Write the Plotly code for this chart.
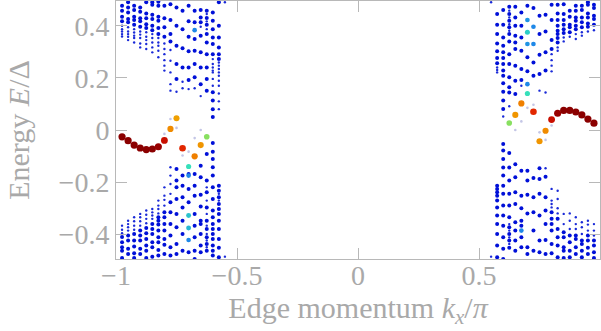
import plotly.graph_objects as go

# Momentum columns on each side of the zone (k_x / pi)
k_left = [-0.975, -0.95, -0.925, -0.9, -0.875, -0.85, -0.825, -0.8, -0.775,
          -0.75, -0.725, -0.7, -0.675, -0.65, -0.625, -0.6, -0.575, -0.55]
k_right = [0.55, 0.575, 0.6, 0.625, 0.65, 0.675, 0.7, 0.725, 0.75,
           0.775, 0.8, 0.825, 0.85, 0.875, 0.9, 0.925, 0.95, 0.975]

# Bulk levels (E / Delta), one list per momentum column
left_big = [
    [.477, .458, .435, .417, -.411, -.431, -.450, -.463, -.491],
    [.490, .470, .451, .426, .413, -.405, -.424, -.456, -.476],
    [.477, .460, .435, .422, .404, -.399, -.424, -.447, -.473, -.491],
    [.470, .454, .429, .417, .396, -.386, -.405, -.424, -.456, -.476],
    [.490, .447, .429, .406, .391, -.376, -.396, -.418, -.443, -.463, -.491],
    [.490, .481, .442, .426, .400, .383, -.361, -.380, -.399, -.431, -.450, -.486],
    [.492, .477, .435, .419, .391, .368, -.335, -.348, -.363, -.386, -.412, -.431, -.460, -.482],
    [.477, .429, .394, .358, -.316, -.335, -.361, -.386, -.418, -.440, -.476],
    [.483, .422, .368, .340, -.277, -.316, -.361, -.405, -.450, -.482],
    [.470, .400, .323, .253, .196, -.150, -.194, -.220, -.265, -.322, -.373, -.437, -.476],
    [.458, .387, .314, .240, -.175, -.214, -.258, -.297, -.348, -.399, -.463],
    [.477, .417, .358, .302, .240, .192, -.169, -.226, -.277, -.469],
    [.458, .413, .349, .304, .253, .202, -.169, -.214, -.252, -.322, -.367, -.412, -.463, -.495],
    [.460, .432, .413, .362, .298, .240, .176, -.137, -.181, -.248, -.294, -.348, -.361, -.399, -.443, -.469],
    [.458, .430, .404, .368, .336, .291, .240, .196, .151, -.092, -.194, -.239, -.297, -.348, -.380,
     -.412, -.437, -.463],
    [.451, .419, .387, .355, .330, .291, .145, .113, .080, .050, -.050, -.083, -.111, -.143, -.175,
     -.220, -.265, -.309, -.335, -.361, -.380, -.399, -.418, -.443, -.463, -.482],
    [.490, .400, .355, .317, .291, .272, -.214, -.233, -.258, -.284, -.303, -.322, -.348, -.380,
     -.418, -.452, -.488],
    [],
]
left_small = [
    [.400, .387, .378, .368, .359, -.367, -.383, -.396],
    [.394, .378, .368, .358, .345, -.348, -.361, -.373, -.386],
    [.387, .374, .362, .353, .336, -.335, -.350, -.367, -.383],
    [.378, .366, .353, .332, .317, -.322, -.335, -.350, -.367],
    [.375, .358, .345, .330, .311, -.309, -.325, -.341, -.358],
    [.368, .353, .336, .317, .298, -.303, -.316, -.328, -.341],
    [.353, .336, .323, .304, .279, -.271, -.290, -.303, -.320],
    [.332, .311, .291, .268, .247, .228, -.220, -.252, -.268, -.290],
    [.307, .266, .221, .176, .151, -.143, -.175, -.207, -.245],
    [.147],
    [.185, .160],
    [.157],
    [.160],
    [.396, .130],
    [.445, .417, .387, -.220, -.271, -.322, -.367, -.399, -.424, -.450],
    [.272, .253, .240, .228, .221, .196, .170],
    [.259, .247, .234, .221, .208, .189, .170, .140, .110, .080, -.245, -.271, -.303],
    [.490, -.486],
]
right_big = [
    [],
    [.445, .404, .368, .332, .302, .276, .256, -.214, -.226, -.239, -.252, -.271, -.297, -.328,
     -.361, -.399, -.443, -.488],
    [.460, .404, .355, .323, .298, .276, .253, .228, .208, .179, .147, .113, .081, -.054, -.079,
     -.111, -.144, -.175, -.214, -.245, -.290, -.328, -.367, -.412, -.456, -.495],
    [.473, .445, .419, .394, .368, .340, .291, .253, .202, .164, .144, -.088, -.144, -.194, -.245,
     -.290, -.335, -.373, -.399, -.424, -.452],
    [.473, .432, .400, .362, .336, .311, .247, .189, .138, -.131, -.181, -.239, -.284, -.354,
     -.386, -.424, -.463],
    [.451, .400, .355, .304, .234, .192, -.156, -.252, -.300, -.348, -.367, -.412, -.450],
    [.477, .279, .225, -.156, -.194, -.248, -.320, -.450, -.476],
    [.468, .259, .208, -.184, -.258, -.316, -.386, -.463],
    [.438, .368, .289, .215, -.147, -.188, -.245, -.328, -.424, -.469],
    [.442, .378, .298, .228, -.179, -.258, -.309, -.361, -.422, -.476],
    [.481, .422, .345, .311, -.316, -.341, -.361, -.386, -.437, -.473],
    [.481, .447, .422, .400, .381, .368, .353, .336, -.341, -.380, -.412, -.443, -.488],
    [.483, .445, .422, .404, .387, .372, -.392, -.412, -.450, -.463, -.491],
    [.458, .435, .404, .394, .375, -.405, -.431, -.463, -.488],
    [.477, .458, .432, .419, .400, .387, -.405, -.418, -.450, -.476],
    [.477, .460, .432, .413, .394, -.424, -.437, -.463, -.488],
    [.490, .481, .447, .432, .409, .396, -.405, -.424, -.452, -.476],
    [.481, .468, .438, .426, .404, -.424, -.443, -.469, -.491],
]
right_small = [
    [.490, -.486],
    [.240, .230, .221],
    [.052],
    [.458, .432, .406, .381, .091, -.361, -.386, -.412, -.437],
    [],
    [.170],
    [],
    [],
    [.151],
    [.144, -.147],
    [.291, .268, .247, .225, -.226, -.271, -.284, -.297],
    [.317, .304, -.233, -.265, -.300, -.320],
    [.355, .340, -.322, -.361],
    [.358, -.320, -.348, -.380],
    [.368, .349, -.335, -.361, -.380],
    [.375, .362, -.354, -.373, -.399],
    [.378, -.348, -.363, -.386],
    [.383, -.361, -.386, -.405],
]

# Faint in-gap levels with almost no spectral weight
faint_k = [-0.775, -0.75, -0.8, -0.65, -0.675, -0.725, -0.7,
           0.725, 0.675, 0.65, 0.75, 0.775, 0.8, 0.7]
faint_E = [0.042, 0.008, -0.015, 0.000, -0.031, -0.098, -0.083,
           0.097, 0.033, 0.000, -0.009, -0.038, 0.017, 0.085]

# Edge-weighted states: momentum, energy and edge weight (0 = bulk, 1 = edge)
edge_k = [-0.975, -0.95, -0.925, -0.9, -0.875, -0.85, -0.825, -0.8, -0.775, -0.75,
          -0.725, -0.7, -0.675, -0.65, -0.625,
          0.975, 0.95, 0.925, 0.9, 0.875, 0.85, 0.825, 0.8, 0.775, 0.75,
          0.725, 0.7, 0.675, 0.65, 0.625,
          -0.675, -0.7, -0.7, -0.7, -0.7, 0.7, 0.7, 0.7, 0.7, 0.725, 0.725, 0.675]
edge_E = [-0.026, -0.041, -0.058, -0.069, -0.075, -0.073, -0.064, -0.040, 0.004, 0.045,
          -0.070, -0.140, -0.101, -0.058, -0.026,
          0.026, 0.042, 0.058, 0.069, 0.075, 0.075, 0.064, 0.040, -0.003, -0.043,
          0.070, 0.140, 0.102, 0.058, 0.027,
          0.383, -0.175, -0.328, -0.376, -0.422, 0.422, 0.375, 0.330, 0.176, 0.396, 0.330, -0.386]
edge_w = [1.0, 1.0, 1.0, 1.0, 1.0, 1.0, 0.97, 0.88, 0.68, 0.64,
          0.82, 0.36, 0.7, 0.66, 0.5,
          1.0, 1.0, 1.0, 1.0, 1.0, 1.0, 0.97, 0.88, 0.68, 0.66,
          0.82, 0.36, 0.7, 0.66, 0.5,
          0.2, 0.2, 0.3, 0.28, 0.2, 0.22, 0.32, 0.22, 0.2, 0.2, 0.2, 0.2]

weight_scale = [
    [0.0, "#0010d8"], [0.2, "#1e88e8"], [0.35, "#30e0c0"], [0.5, "#88e060"],
    [0.64, "#f0a000"], [0.7, "#f08000"], [0.84, "#e01800"], [0.95, "#a00000"], [1.0, "#8b0000"],
]


def flatten(ks, cols):
    xs, ys = [], []
    for k, col in zip(ks, cols):
        for e in col:
            xs.append(k)
            ys.append(e)
    return xs, ys


bk_x, bk_y = flatten(k_left + k_right, left_big + right_big)
sm_x, sm_y = flatten(k_left + k_right, left_small + right_small)

fig = go.Figure()
fig.add_trace(go.Scatter(x=faint_k, y=faint_E, mode="markers",
                         marker=dict(size=2.6, color="#c4c6e6", line_width=0, opacity=1),
                         hoverinfo="skip"))
fig.add_trace(go.Scatter(x=sm_x, y=sm_y, mode="markers",
                         marker=dict(size=2.4, color="#1a2ad8", line_width=0, opacity=1),
                         hoverinfo="skip"))
fig.add_trace(go.Scatter(x=bk_x, y=bk_y, mode="markers",
                         marker=dict(size=4, color="#0010d8", line_width=0, opacity=1),
                         hoverinfo="skip"))
fig.add_trace(go.Scatter(x=edge_k, y=edge_E, mode="markers",
                         marker=dict(size=[4 + 3.2 * w for w in edge_w], color=edge_w,
                                     colorscale=weight_scale, cmin=0, cmax=1,
                                     line_width=0, opacity=1),
                         hoverinfo="skip"))

grey = "#a9a9a9"
frame = "#b8b8b8"
tick_font = dict(family="Liberation Serif, Times New Roman, serif", size=28, color=grey)
title_font = dict(family="Liberation Serif, Times New Roman, serif", size=30, color=grey)

x_ticks = [-1, -0.5, 0, 0.5, 1]
x_labels = ["\u22121", "\u22120.5", "0", "0.5", "1"]
y_ticks = [-0.4, -0.2, 0, 0.2, 0.4]
y_labels = ["\u22120.4", "\u22120.2", "0", "0.2", "0.4"]

axis_common = dict(showline=True, linecolor=frame, linewidth=1, mirror="ticks",
                   ticks="inside", ticklen=11, tickcolor=frame, tickwidth=1,
                   showgrid=False, zeroline=False, tickfont=tick_font)

fig.update_xaxes(range=[-1, 1], tickvals=x_ticks, ticktext=x_labels, ticklabelstandoff=-9,
                 title=dict(text="Edge momentum <i>k<sub>x</sub></i>/<i>π</i>", font=title_font,
                            standoff=4),
                 **axis_common)
fig.update_yaxes(range=[-0.495, 0.495], tickvals=y_ticks, ticktext=y_labels,
                 title=dict(text="Energy <i>E</i>/Δ", font=title_font, standoff=20),
                 **axis_common)

fig.update_layout(width=601, height=331, margin=dict(l=116, r=1, t=1, b=72),
                  paper_bgcolor="white", plot_bgcolor="white", showlegend=False)

fig.write_html("out.html")
